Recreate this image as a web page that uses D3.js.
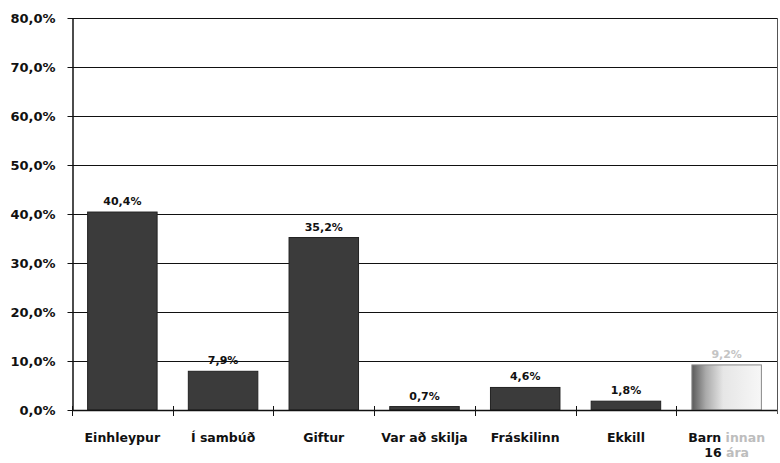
<!DOCTYPE html>
<html><head><meta charset="utf-8">
<script src="https://cdn.jsdelivr.net/npm/d3@7"></script>
<style>body{margin:0;background:#fff}svg{display:block}</style>
</head><body>
<svg id="c" width="780" height="463"></svg>
<script>
const categories = ["Einhleypur", "Í sambúð", "Giftur", "Var að skilja", "Fráskilinn", "Ekkill", "Barn innan 16 ára"];
const values = [40.4, 7.9, 35.2, 0.7, 4.6, 1.8, 9.2];
const valueLabels = ["40,4%", "7,9%", "35,2%", "0,7%", "4,6%", "1,8%", "9,2%"];
const categoryLines = [["Einhleypur"], ["Í sambúð"], ["Giftur"], ["Var að skilja"], ["Fráskilinn"], ["Ekkill"], ["Barn innan", "16 ára"]];
const yTicks = [0, 10, 20, 30, 40, 50, 60, 70, 80];

(function() {
const svg = d3.select("#c");
const pLeft = 72, pRight = 777, pTop = 18, pBottom = 410;
const font = "'DejaVu Sans', 'Liberation Sans', Arial, sans-serif";

const x = d3.scaleBand().domain(categories).range([pLeft, pRight]).paddingInner(0.31).paddingOuter(0.155);
const y = d3.scaleLinear().domain([0, 80]).range([pBottom, pTop]);

const defs = svg.append("defs");
const grad = defs.append("linearGradient").attr("id", "fade").attr("x1", 0).attr("x2", 1).attr("y1", 0).attr("y2", 0);
grad.append("stop").attr("offset", "0%").attr("stop-color", "#5a5a5a");
grad.append("stop").attr("offset", "20%").attr("stop-color", "#aaa");
grad.append("stop").attr("offset", "45%").attr("stop-color", "#e6e6e6");
grad.append("stop").attr("offset", "100%").attr("stop-color", "#f7f7f7");

// gridlines
svg.append("g").selectAll("line").data(yTicks.filter(d => d > 0)).join("line")
  .attr("x1", pLeft).attr("x2", pRight)
  .attr("y1", d => y(d) + 0.5).attr("y2", d => y(d) + 0.5)
  .attr("stroke", "#111").attr("stroke-width", 1);

// right frame
svg.append("line").attr("x1", pRight + 0.5).attr("x2", pRight + 0.5).attr("y1", pTop).attr("y2", pBottom + 4)
  .attr("stroke", "#555").attr("stroke-width", 1);

// bars
svg.append("g").selectAll("rect").data(categories).join("rect")
  .attr("x", d => x(d))
  .attr("width", x.bandwidth())
  .attr("y", (d, i) => y(values[i]))
  .attr("height", (d, i) => pBottom - y(values[i]))
  .attr("fill", (d, i) => i === categories.length - 1 ? "url(#fade)" : "#3b3b3b")
  .attr("stroke", (d, i) => i === categories.length - 1 ? "#888" : "#222")
  .attr("stroke-width", 1);

// value labels
svg.append("g").selectAll("text").data(categories).join("text")
  .attr("x", d => x(d) + x.bandwidth() / 2)
  .attr("y", (d, i) => y(values[i]) - 7)
  .attr("text-anchor", "middle")
  .attr("font-family", font).attr("font-weight", "bold").attr("font-size", 11)
  .attr("fill", (d, i) => i === categories.length - 1 ? "#c4c4c4" : "#111")
  .text((d, i) => valueLabels[i]);

// y axis
const yAxis = svg.append("g").attr("transform", `translate(${pLeft + 0.5},0)`)
  .call(d3.axisLeft(y).tickValues(yTicks).tickSizeInner(5).tickSizeOuter(0).tickPadding(12)
    .tickFormat(d => d.toFixed(1).replace(".", ",") + "%"));
yAxis.select(".domain").attr("stroke", "#111").attr("stroke-width", 1.5);
yAxis.selectAll(".tick line").attr("stroke", "#111");
yAxis.selectAll(".tick text").attr("font-family", font).attr("font-weight", "bold").attr("font-size", 13).attr("fill", "#111");

// x axis baseline
svg.append("line").attr("x1", pLeft).attr("x2", pRight).attr("y1", pBottom + 0.5).attr("y2", pBottom + 0.5)
  .attr("stroke", "#111").attr("stroke-width", 1.5);

// x ticks at category boundaries
const step = x.step();
const boundaries = categories.map(d => x(d) - step * x.paddingInner() / 2);
svg.append("g").selectAll("line").data(boundaries).join("line")
  .attr("x1", d => Math.round(d) + 0.5).attr("x2", d => Math.round(d) + 0.5)
  .attr("y1", pBottom - 4).attr("y2", pBottom + 6)
  .attr("stroke", "#111").attr("stroke-width", 1);

// x labels
const fadedWords = new Set(["innan", "ára"]);
const xl = svg.append("g").selectAll("text").data(categories).join("text")
  .attr("x", d => x(d) + x.bandwidth() / 2)
  .attr("y", 442)
  .attr("text-anchor", "middle")
  .attr("font-family", font).attr("font-weight", "bold").attr("font-size", 12.5)
  .attr("fill", "#111");
xl.each(function(d, i) {
  const t = d3.select(this);
  categoryLines[i].forEach((line, li) => {
    const words = line.split(" ");
    words.forEach((w, wi) => {
      const ts = t.append("tspan").text((wi > 0 ? " " : "") + w)
        .attr("fill", fadedWords.has(w) ? "#bdbdbd" : "#111");
      if (wi === 0) ts.attr("x", x(d) + x.bandwidth() / 2).attr("dy", li === 0 ? 0 : 15);
    });
  });
});
})();
</script>
</body></html>
